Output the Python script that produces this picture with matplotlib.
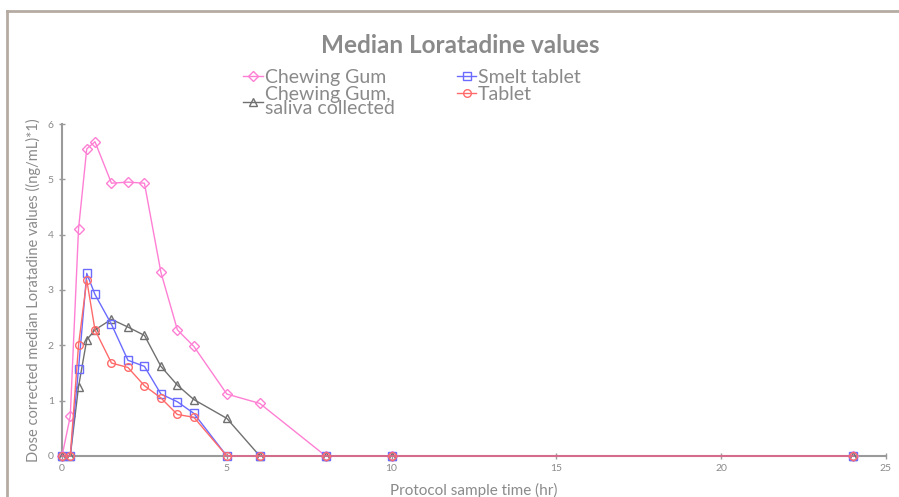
import matplotlib.pyplot as plt
from matplotlib.lines import Line2D

# sampling times (hr)
times = [0, 0.25, 0.5, 0.75, 1, 1.5, 2, 2.5, 3, 3.5, 4, 5, 6, 8, 10, 24]

# dose corrected median values ((ng/mL)*1)
chewing_gum = [0, 0.72, 4.1, 5.55, 5.68, 4.93, 4.95, 4.93, 3.32, 2.28, 1.98, 1.12, 0.95, 0, 0, 0]
gum_saliva = [0, 0, 1.25, 2.1, 2.28, 2.47, 2.33, 2.18, 1.62, 1.28, 1.02, 0.68, 0, 0, 0, 0]
smelt_tablet = [0, 0, 1.57, 3.3, 2.92, 2.38, 1.73, 1.62, 1.12, 0.98, 0.77, 0, 0, 0, 0, 0]
tablet = [0, 0, 2.0, 3.18, 2.28, 1.68, 1.6, 1.27, 1.05, 0.75, 0.7, 0, 0, 0, 0, 0]

series = [
    ("Chewing Gum", chewing_gum, "#ff7fd4", "D"),
    ("Chewing Gum,\nsaliva collected", gum_saliva, "#707070", "^"),
    ("Smelt tablet", smelt_tablet, "#6b6bff", "s"),
    ("Tablet", tablet, "#ff6b6b", "o"),
]

plt.rcParams['font.family'] = ['Lato', 'DejaVu Sans']
grey = "#8a8a8a"

fig = plt.figure(figsize=(8.99, 4.97), dpi=100)
ax = fig.add_axes([0.069, 0.0825, 0.9165, 0.668])

for name, vals, col, mk in series:
    ax.plot(times, vals, color=col, lw=1.0, marker=mk, ms=5.5 if mk != "D" else 5,
            mfc="none", mec=col, mew=1.0, label=name, clip_on=False, zorder=3)

ax.set_xlim(0, 25)
ax.set_ylim(0, 6)
ax.set_xticks([0, 5, 10, 15, 20, 25])
ax.set_yticks(range(7))
for s in ["top", "right"]:
    ax.spines[s].set_visible(False)
for s in ["left", "bottom"]:
    ax.spines[s].set_color("#9a9a9a")
    ax.spines[s].set_linewidth(1.5)
ax.tick_params(direction="inout", length=5, width=1, color="#9a9a9a",
               labelcolor=grey, labelsize=7.5)

ax.set_ylabel("Dose corrected median Loratadine values ((ng/mL)*1)",
              color=grey, fontsize=10.5, labelpad=5)
ax.set_xlabel("Protocol sample time (hr)", color=grey, fontsize=11,
              labelpad=7)

fig.text(0.512, 0.909, "Median Loratadine values", ha="center", va="center",
         fontsize=17.5, fontweight="bold", color="#8a8a8a")

handles = [Line2D([], [], color=c, marker=m, mfc="none", mec=c, lw=1.0, ms=5.5)
           for _, _, c, m in series]
leg = fig.legend(handles, [s[0] for s in series], ncol=2, loc="upper left",
                 bbox_to_anchor=(0.262, 0.877), frameon=False, handlelength=1.0,
                 handletextpad=0.1, columnspacing=3.2, labelspacing=0.0,
                 fontsize=14, borderaxespad=0)
for t in leg.get_texts():
    t.set_color(grey)
    t.set_linespacing(0.78)

# outer frame line along top and left edge
fig.add_artist(Line2D([0.008, 0.008], [0, 0.978], color="#b5aba2", lw=2,
                      transform=fig.transFigure))
fig.add_artist(Line2D([0.008, 1.0], [0.978, 0.978], color="#b5aba2", lw=2,
                      transform=fig.transFigure))

fig.savefig("out.png", dpi=100)
